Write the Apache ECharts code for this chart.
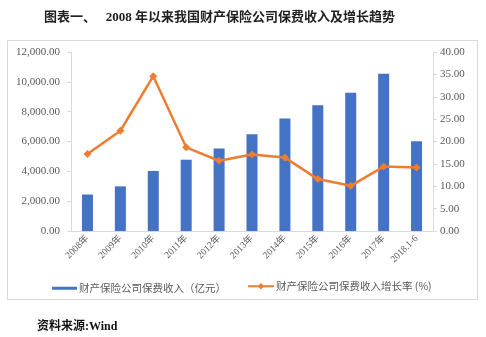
<!DOCTYPE html>
<html>
<head>
<meta charset="utf-8">
<script src="https://cdn.jsdelivr.net/npm/echarts@6/dist/echarts.min.js"></script>
<style>
html,body{margin:0;padding:0;background:#fff;}
#c{width:486px;height:337px;}
</style>
</head>
<body>
<div id="c"></div>
<script>
var categories = ['2008年','2009年','2010年','2011年','2012年','2013年','2014年','2015年','2016年','2017年','2018.1-6'];
var premiumIncome = [2446, 2993, 4027, 4779, 5530, 6481, 7544, 8423, 9266, 10541, 6010];
var growthRate = [17.2, 22.4, 34.6, 18.7, 15.7, 17.1, 16.4, 11.6, 10.1, 14.4, 14.2];
var leftTicks = { min: 0, max: 12000, interval: 2000 };
var rightTicks = { min: 0, max: 40, interval: 5 };
var barName = '财产保险公司保费收入（亿元）';
var lineName = '财产保险公司保费收入增长率 (%)';

var serif = '"Liberation Serif", "Times New Roman", serif';
var cjk = '"Liberation Serif", "Noto Sans CJK SC", serif';
var gray = '#595959';
var chart = echarts.init(document.getElementById('c'), null, { renderer: 'canvas' });
function fmt(v, d) {
  return v.toFixed(d).replace(/\B(?=(\d{3})+(?!\d))/g, ',');
}
chart.setOption({
  animation: false,
  title: {
    text: '图表一、   2008 年以来我国财产保险公司保费收入及增长趋势',
    left: 39, top: 6,
    textStyle: { fontFamily: cjk, fontSize: 13, fontWeight: 'bold', color: '#222' }
  },
  graphic: [
    { type: 'rect', shape: { x: 7.5, y: 40.5, width: 470, height: 259 }, style: { fill: 'none', stroke: '#d9d9d9', lineWidth: 1 }, z: -1 },
    { type: 'text', left: 37, top: 321, style: { text: '资料来源:Wind', font: 'bold 12px ' + cjk, fill: '#111' } }
  ],
  legend: [
    { data: [barName], left: 47, top: 278, icon: 'rect', itemWidth: 25, itemHeight: 3, itemGap: 2,
      textStyle: { fontFamily: '"Noto Sans CJK SC", sans-serif', fontSize: 10.5, color: gray, padding: [0,0,0,-3] } },
    { data: [lineName], left: 242, top: 276, itemWidth: 26, itemHeight: 8,
      textStyle: { fontFamily: '"Noto Sans CJK SC", sans-serif', fontSize: 10.5, color: gray, padding: [0,0,0,-3] } }
  ],
  grid: { left: 71, right: 53, top: 52, bottom: 106, containLabel: false },
  xAxis: {
    type: 'category', data: categories,
    axisLine: { lineStyle: { color: '#d9d9d9' } },
    axisTick: { show: false },
    axisLabel: { rotate: 45, interval: 0, fontFamily: cjk, fontSize: 9.5, color: gray, margin: 6 }
  },
  yAxis: [
    { type: 'value', min: leftTicks.min, max: leftTicks.max, interval: leftTicks.interval,
      axisLine: { show: true, lineStyle: { color: '#d9d9d9' } },
      axisTick: { show: true, length: 4, lineStyle: { color: '#d9d9d9' } },
      splitLine: { show: false },
      axisLabel: { fontFamily: serif, fontSize: 11, color: gray, margin: 11, formatter: function (v) { return fmt(v, 2); } } },
    { type: 'value', min: rightTicks.min, max: rightTicks.max, interval: rightTicks.interval,
      axisLine: { show: true, lineStyle: { color: '#d9d9d9' } },
      axisTick: { show: true, length: 4, lineStyle: { color: '#d9d9d9' } },
      splitLine: { show: false },
      axisLabel: { fontFamily: serif, fontSize: 11, color: gray, margin: 7, formatter: function (v) { return v.toFixed(2); } } }
  ],
  series: [
    { name: barName, type: 'bar', data: premiumIncome, barWidth: 11, itemStyle: { color: '#4472C4' } },
    { name: lineName, type: 'line', yAxisIndex: 1, data: growthRate, symbol: 'diamond', symbolSize: 8,
      lineStyle: { color: '#ED7D31', width: 2.5 }, itemStyle: { color: '#ED7D31' } }
  ]
});
</script>
</body>
</html>
